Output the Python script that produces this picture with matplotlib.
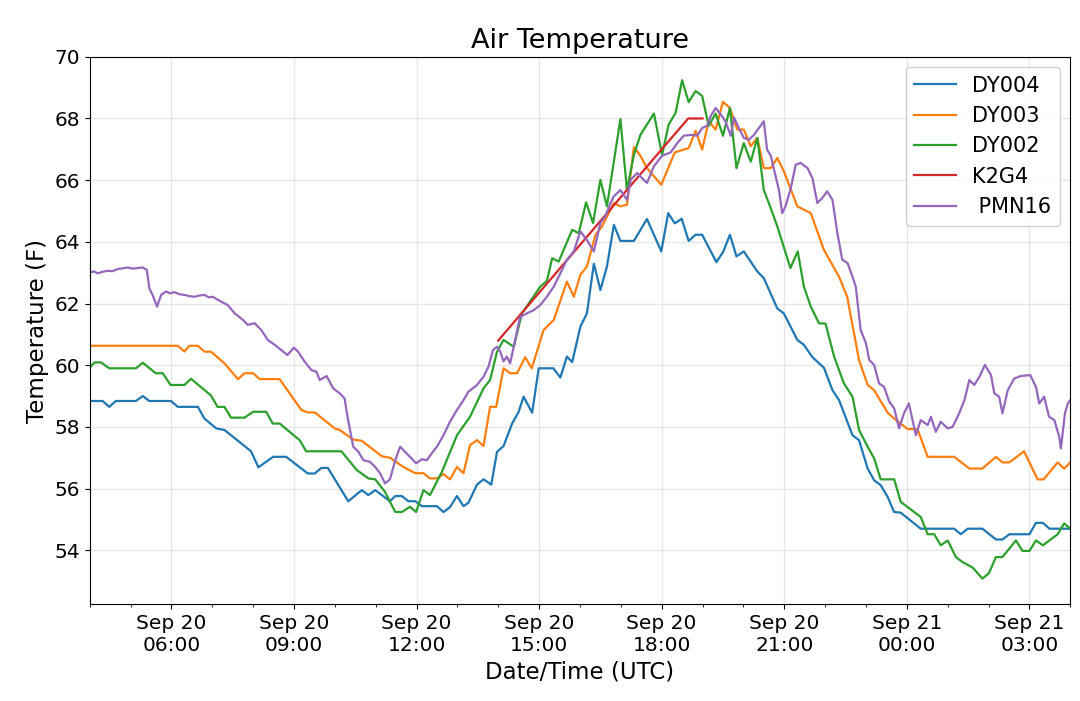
"""Air temperature at nearby stations, Sep 20-21 (UTC)."""
import matplotlib
matplotlib.use("Agg")
import matplotlib.pyplot as plt
import matplotlib.dates as mdates
import numpy as np
import pandas as pd

DAY0 = pd.Timestamp("2019-09-20")

# (hours after Sep 20 00:00 UTC, temperature F)
dy004 = [(4.00, 58.84), (4.32, 58.84), (4.48, 58.65), (4.64, 58.84), (5.13, 58.84), (5.30, 59.00),
         (5.46, 58.84), (5.99, 58.84), (6.16, 58.65), (6.65, 58.65), (6.81, 58.27), (7.10, 57.95),
         (7.30, 57.90), (7.95, 57.21), (8.13, 56.69), (8.49, 57.03), (8.81, 57.03), (9.34, 56.49),
         (9.51, 56.49), (9.67, 56.67), (9.83, 56.67), (10.33, 55.59), (10.66, 55.95), (10.82, 55.79),
         (10.99, 55.95), (11.35, 55.59), (11.48, 55.76), (11.64, 55.76), (11.80, 55.59), (11.97, 55.59),
         (12.13, 55.43), (12.50, 55.43), (12.66, 55.24), (12.82, 55.40), (12.99, 55.76), (13.15, 55.43),
         (13.27, 55.54), (13.48, 56.13), (13.64, 56.30), (13.83, 56.13), (13.97, 57.19), (14.13, 57.38),
         (14.34, 58.11), (14.50, 58.49), (14.62, 58.98), (14.83, 58.46), (14.99, 59.90), (15.35, 59.90),
         (15.52, 59.60), (15.68, 60.28), (15.81, 60.10), (16.01, 61.25), (16.17, 61.68), (16.34, 63.29),
         (16.50, 62.44), (16.66, 63.20), (16.83, 64.55), (16.99, 64.03), (17.32, 64.03), (17.64, 64.74),
         (17.99, 63.69), (18.16, 64.93), (18.32, 64.60), (18.49, 64.75), (18.66, 64.03), (18.83, 64.23),
         (18.99, 64.23), (19.34, 63.34), (19.51, 63.69), (19.67, 64.23), (19.83, 63.53), (20.01, 63.69),
         (20.34, 63.04), (20.50, 62.82), (20.83, 61.84), (20.99, 61.68), (21.32, 60.82), (21.48, 60.66),
         (21.69, 60.26), (21.97, 59.92), (22.18, 59.19), (22.34, 58.87), (22.67, 57.73), (22.83, 57.57),
         (23.04, 56.65), (23.20, 56.27), (23.36, 56.11), (23.53, 55.73), (23.69, 55.24), (23.85, 55.22),
         (24.34, 54.70), (25.16, 54.70), (25.32, 54.52), (25.49, 54.70), (25.85, 54.70), (26.18, 54.35),
         (26.34, 54.35), (26.51, 54.52), (27.00, 54.52), (27.16, 54.89), (27.33, 54.89), (27.49, 54.70),
         (28.00, 54.70)]

dy003 = [(4.00, 60.63), (6.16, 60.63), (6.32, 60.44), (6.44, 60.63), (6.65, 60.63), (6.81, 60.44),
         (6.97, 60.44), (7.30, 60.06), (7.63, 59.55), (7.79, 59.74), (8.00, 59.74), (8.16, 59.55),
         (8.65, 59.55), (9.18, 58.55), (9.34, 58.47), (9.51, 58.47), (10.00, 57.95), (10.12, 57.90),
         (10.45, 57.59), (10.66, 57.55), (11.15, 57.05), (11.35, 57.00), (11.68, 56.70), (11.97, 56.50),
         (12.17, 56.50), (12.33, 56.33), (12.50, 56.33), (12.66, 56.47), (12.82, 56.30), (12.99, 56.70),
         (13.15, 56.50), (13.31, 57.41), (13.48, 57.57), (13.64, 57.38), (13.80, 58.65), (13.95, 58.65),
         (14.13, 59.90), (14.29, 59.74), (14.46, 59.74), (14.66, 60.26), (14.82, 59.90), (15.11, 61.14),
         (15.36, 61.47), (15.68, 62.71), (15.85, 62.22), (16.01, 62.93), (16.17, 63.20), (16.38, 64.23),
         (16.54, 64.50), (16.83, 65.26), (16.99, 65.15), (17.15, 65.20), (17.32, 67.07), (17.48, 66.79),
         (17.64, 66.39), (17.99, 65.85), (18.32, 66.90), (18.66, 67.04), (18.83, 67.60), (18.99, 66.99),
         (19.15, 67.91), (19.32, 67.64), (19.50, 68.54), (19.67, 68.34), (19.85, 67.64), (20.01, 67.64),
         (20.18, 67.10), (20.34, 67.37), (20.50, 66.39), (20.67, 66.39), (20.83, 66.72), (20.99, 66.29),
         (21.32, 65.15), (21.65, 64.93), (21.97, 63.74), (22.34, 62.87), (22.54, 62.22), (22.83, 60.17),
         (23.04, 59.36), (23.20, 59.19), (23.53, 58.46), (23.69, 58.27), (24.02, 57.93), (24.26, 57.93),
         (24.51, 57.03), (25.16, 57.03), (25.53, 56.65), (25.85, 56.65), (26.18, 57.03), (26.34, 56.85),
         (26.51, 56.85), (26.87, 57.21), (27.20, 56.30), (27.35, 56.30), (27.69, 56.85), (27.85, 56.65),
         (28.00, 56.85)]

dy002 = [(4.00, 59.92), (4.12, 60.09), (4.28, 60.09), (4.48, 59.90), (5.13, 59.90), (5.30, 60.08),
         (5.62, 59.74), (5.79, 59.74), (5.98, 59.36), (6.32, 59.36), (6.48, 59.56), (6.97, 59.02),
         (7.13, 58.65), (7.30, 58.65), (7.46, 58.30), (7.79, 58.30), (8.00, 58.49), (8.32, 58.49),
         (8.48, 58.11), (8.65, 58.11), (9.14, 57.57), (9.30, 57.21), (10.16, 57.21), (10.54, 56.60),
         (10.82, 56.33), (10.99, 56.30), (11.23, 55.89), (11.48, 55.24), (11.64, 55.24), (11.84, 55.41),
         (11.99, 55.24), (12.17, 55.95), (12.33, 55.79), (12.62, 56.54), (12.99, 57.73), (13.31, 58.33),
         (13.64, 59.25), (13.80, 59.52), (13.97, 60.44), (14.13, 60.82), (14.38, 60.60), (14.58, 61.68),
         (15.03, 62.55), (15.19, 62.73), (15.32, 63.47), (15.48, 63.36), (15.81, 64.39), (15.97, 64.28),
         (16.15, 65.28), (16.32, 64.61), (16.50, 66.01), (16.66, 65.15), (16.99, 67.98), (17.15, 65.68),
         (17.32, 66.82), (17.48, 67.47), (17.81, 68.16), (18.01, 66.82), (18.17, 67.80), (18.34, 68.18),
         (18.50, 69.24), (18.66, 68.53), (18.83, 68.89), (18.99, 68.73), (19.15, 67.76), (19.32, 68.16),
         (19.50, 67.44), (19.67, 68.34), (19.83, 66.39), (20.01, 67.20), (20.18, 66.60), (20.34, 67.37),
         (20.50, 65.68), (20.67, 65.09), (20.83, 64.50), (21.15, 63.15), (21.33, 63.69), (21.48, 62.55),
         (21.65, 61.90), (21.85, 61.36), (22.01, 61.35), (22.22, 60.28), (22.46, 59.41), (22.67, 58.98),
         (22.83, 57.90), (23.04, 57.36), (23.20, 56.98), (23.36, 56.30), (23.69, 56.30), (23.85, 55.57),
         (24.34, 55.08), (24.51, 54.52), (24.67, 54.52), (24.83, 54.16), (25.00, 54.32), (25.20, 53.78),
         (25.36, 53.62), (25.61, 53.44), (25.85, 53.08), (26.01, 53.26), (26.18, 53.78), (26.34, 53.78),
         (26.67, 54.32), (26.83, 53.98), (27.00, 53.98), (27.16, 54.32), (27.33, 54.16), (27.69, 54.52),
         (27.85, 54.87), (28.00, 54.70)]

k2g4 = [(14.0, 60.8), (15.0, 62.35), (16.0, 63.9), (17.0, 65.45), (18.0, 67.0), (18.65, 68.0),
        (19.0, 68.0)]

pmn16 = [(4.00, 63.01), (4.10, 63.04), (4.20, 62.98), (4.32, 63.03), (4.44, 63.06), (4.56, 63.05),
         (4.69, 63.12), (4.81, 63.14), (4.93, 63.17), (5.05, 63.13), (5.18, 63.15), (5.30, 63.17),
         (5.40, 63.09), (5.46, 62.50), (5.54, 62.28), (5.65, 61.90), (5.75, 62.28), (5.87, 62.39),
         (5.97, 62.33), (6.08, 62.37), (6.20, 62.30), (6.32, 62.28), (6.44, 62.24), (6.57, 62.22),
         (6.69, 62.26), (6.81, 62.28), (6.92, 62.20), (7.01, 62.22), (7.22, 62.06), (7.38, 61.95),
         (7.55, 61.68), (7.63, 61.60), (7.75, 61.47), (7.87, 61.31), (8.04, 61.36), (8.20, 61.14),
         (8.36, 60.82), (8.53, 60.66), (8.69, 60.49), (8.84, 60.33), (9.00, 60.57), (9.10, 60.44),
         (9.26, 60.12), (9.43, 59.84), (9.55, 59.79), (9.63, 59.52), (9.80, 59.65), (9.96, 59.25),
         (10.12, 59.09), (10.24, 58.92), (10.31, 58.33), (10.35, 58.06), (10.45, 57.36), (10.58, 57.19),
         (10.70, 56.92), (10.86, 56.87), (10.99, 56.70), (11.11, 56.49), (11.23, 56.17), (11.35, 56.30),
         (11.48, 56.92), (11.60, 57.36), (11.72, 57.19), (11.84, 57.03), (11.99, 56.82), (12.13, 56.95),
         (12.25, 56.92), (12.37, 57.14), (12.50, 57.36), (12.66, 57.73), (12.82, 58.17), (12.99, 58.55),
         (13.15, 58.87), (13.27, 59.14), (13.48, 59.36), (13.64, 59.63), (13.76, 59.95), (13.87, 60.49),
         (13.97, 60.60), (14.05, 60.44), (14.13, 60.12), (14.21, 60.28), (14.29, 60.06), (14.38, 60.60),
         (14.50, 61.36), (14.54, 61.57), (14.70, 61.68), (14.87, 61.79), (15.03, 61.95), (15.19, 62.22),
         (15.36, 62.55), (15.52, 62.98), (15.68, 63.42), (15.85, 63.69), (16.01, 64.34), (16.17, 64.06),
         (16.34, 63.69), (16.50, 64.61), (16.62, 64.82), (16.75, 65.26), (16.83, 65.48), (16.99, 65.68),
         (17.15, 65.36), (17.24, 66.01), (17.40, 66.23), (17.56, 66.01), (17.64, 65.91), (17.81, 66.45),
         (18.01, 66.79), (18.22, 66.90), (18.38, 67.20), (18.54, 67.44), (18.71, 67.47), (18.87, 67.44),
         (18.99, 67.69), (19.11, 67.76), (19.20, 68.08), (19.32, 68.34), (19.44, 68.14), (19.56, 67.91),
         (19.69, 67.44), (19.77, 68.03), (19.89, 67.69), (20.01, 67.37), (20.13, 67.31), (20.26, 67.47),
         (20.38, 67.69), (20.50, 67.91), (20.58, 66.99), (20.67, 66.79), (20.75, 66.34), (20.87, 65.68),
         (20.95, 64.93), (21.03, 65.15), (21.16, 65.74), (21.28, 66.50), (21.40, 66.56), (21.57, 66.39),
         (21.69, 66.06), (21.81, 65.26), (21.93, 65.42), (22.05, 65.64), (22.18, 65.36), (22.30, 64.28),
         (22.42, 63.42), (22.55, 63.31), (22.67, 62.87), (22.75, 62.55), (22.87, 61.14), (23.00, 60.71),
         (23.08, 60.17), (23.20, 60.01), (23.32, 59.41), (23.44, 59.30), (23.57, 58.82), (23.69, 58.60),
         (23.81, 57.95), (23.93, 58.44), (24.05, 58.76), (24.22, 57.73), (24.34, 58.22), (24.51, 58.06),
         (24.59, 58.33), (24.71, 57.84), (24.83, 58.17), (25.00, 57.95), (25.12, 58.00), (25.28, 58.44),
         (25.41, 58.87), (25.53, 59.52), (25.65, 59.36), (25.78, 59.63), (25.91, 60.01), (26.06, 59.68),
         (26.14, 59.09), (26.26, 58.98), (26.34, 58.44), (26.47, 59.19), (26.63, 59.57), (26.79, 59.65),
         (27.02, 59.68), (27.16, 59.30), (27.24, 58.76), (27.36, 58.98), (27.48, 58.33), (27.61, 58.22),
         (27.73, 57.68), (27.77, 57.30), (27.87, 58.44), (27.94, 58.76), (28.00, 58.87)]

SERIES = [("DY004", dy004), ("DY003", dy003), ("DY002", dy002), ("K2G4", k2g4), (" PMN16", pmn16)]


def to_time(hours):
    return DAY0 + pd.to_timedelta(np.asarray(hours), unit="h")


def main():
    plt.rcParams.update({"font.family": "DejaVu Sans", "font.size": 14})
    fig = plt.figure(figsize=(10.8, 7.01), dpi=100)
    ax = fig.add_axes([0.083, 0.138, 0.908, 0.781])
    for name, pts in SERIES:
        h, t = zip(*pts)
        ax.plot(to_time(h), t, lw=1.6, label=name)

    ax.set_xlim(to_time([4.0])[0], to_time([28.0])[0])
    ax.set_ylim(52.25, 70.0)
    ax.set_yticks(np.arange(54, 71, 2))
    ax.xaxis.set_major_locator(mdates.HourLocator(byhour=range(0, 24, 3)))
    ax.xaxis.set_minor_locator(mdates.HourLocator())
    ax.xaxis.set_major_formatter(mdates.DateFormatter("%b %d\n%H:%M"))
    ax.tick_params(labelsize=14.5)
    ax.grid(True, color="#d8d8d8", alpha=0.6, lw=1.0)

    ax.set_title("Air Temperature", fontsize=19.5)
    ax.set_xlabel("Date/Time (UTC)", fontsize=16.5)
    ax.set_ylabel("Temperature (F)", fontsize=16.5)
    ax.legend(loc="upper right", fontsize=15, framealpha=0.9)
    fig.savefig("out.png", dpi=100)


if __name__ == "__main__":
    main()
